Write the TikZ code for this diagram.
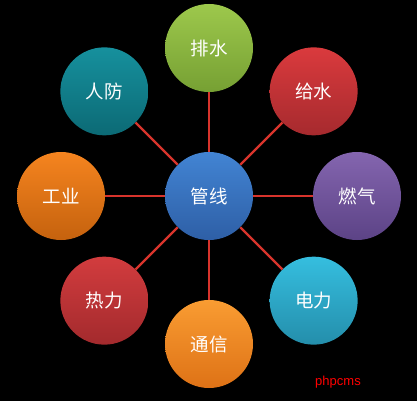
\documentclass[tikz,border=0pt]{standalone}
\usepackage{fontspec}
\setmainfont{Noto Sans CJK SC}
\newfontfamily\latinfont{Liberation Sans}
\usepackage{xcolor}
\usepackage{tikz}
\usetikzlibrary{calc}

\definecolor{hubtop}{HTML}{4284D3}
\definecolor{hubbot}{HTML}{2E5FA6}
\definecolor{linkred}{HTML}{D8342C}

\tikzset{
    ball/.style={circle, minimum size=88pt, inner sep=0pt, font=\fontsize{18.5pt}{20pt}\selectfont, text=white},
    link/.style={draw=linkred, line width=2.3pt}
}

\begin{document}
\begin{tikzpicture}[x=1pt, y=-1pt]
    % background
    \fill[black] (0,0) rectangle (417,401);

    % hub
    \node[ball, top color=hubtop, bottom color=hubbot] (hub) at (209,196) {管线};

    % outer circles
    \foreach \ang/\name/\label/\ctop/\cbot in {
        -90/ps/排水/9DC84C/76A033,
        -45/gs/给水/DA3A3D/A62A2E,
          0/rq/燃气/8465AF/5C4386,
         45/dl/电力/35BEDF/248EAB,
         90/tx/通信/F99C32/DE7216,
        135/rl/热力/D23C3E/A32A2D,
        180/gy/工业/F5841F/C5620E,
       -135/rf/人防/16909D/0C6A75} {
        \definecolor{ctop}{HTML}{\ctop}
        \definecolor{cbot}{HTML}{\cbot}
        \node[ball, top color=ctop, bottom color=cbot] (\name) at ($(209,196)+(\ang:148)$) {\label};
        \draw[link] (hub) -- (\name);
    }

    \node[text=red, font=\latinfont\fontsize{13pt}{15pt}\selectfont] (mark) at (338,382) {phpcms};
\end{tikzpicture}
\end{document}
